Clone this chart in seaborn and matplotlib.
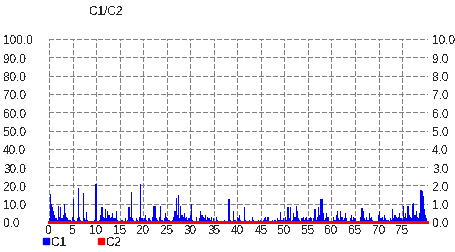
import numpy as np
import pandas as pd
import matplotlib
matplotlib.use("Agg")
import matplotlib.pyplot as plt
from matplotlib.lines import Line2D
import seaborn as sns

title = "C1/C2"
series_names = ["C1", "C2"]
x_start = 0.0
x_step = 0.25
c1_values = [
    2, 15.5, 10, 8,   6, 4, 2, 1,   9, 3, 8, 2,   4, 10, 5, 3,   2, 1, 1, 0.5,
    3, 12.5, 1, 0,    2, 18.5, 3, 1,   0, 16, 2, 1,   5.5, 1, 0, 0.5,   0, 0, 0.5, 1,
    21, 0.5, 0, 1,    4, 8, 3, 2,   7, 2, 6, 4,   2, 3, 5, 2,   2, 6, 1, 0,
    0, 0.5, 1, 0,     0, 2, 0, 1,   8, 3, 16.5, 2,   1, 0.5, 2, 1,   0, 3, 21, 2,
    1, 2, 4, 1,       0, 2, 1, 0,   3, 9, 9, 2,   1, 0, 3, 9,   1, 0, 2, 5,
    3, 2, 1, 0,       0, 1, 3, 6,   13, 4, 15, 2,   9, 4, 3, 5,   2, 3, 1, 2,
    4, 10, 1, 0,      0, 3, 0, 0,   2, 6, 4, 3,   2, 4, 1, 3,   2, 1, 3, 0.5,
    2, 0.5, 3, 1,     0, 0, 0.5, 0,   0, 1, 0, 0,   0.5, 12.5, 1, 0,   0, 6, 1, 0,
    3, 2, 4, 1,       0, 0, 8, 1,   0, 0, 1, 0,   0, 3, 1, 0,   0, 0.5, 1, 0,
    1, 0.5, 1, 2,     3, 1, 3, 0,   0, 0.5, 1, 0,   1, 0.5, 2, 1,   1, 5.5, 1, 2,
    0.5, 3, 1, 8,     2, 8, 0, 1,   5, 3, 8.5, 6,   2, 1, 0, 2,   3, 1, 2, 3,
    1, 2, 3, 2,       0.5, 2, 7, 1,   3, 8, 4, 12.5,   12.5, 5, 1, 2,   5, 3, 0.5, 0,
    0, 0.5, 3, 1,     4, 6, 2, 1,   6, 3, 1, 2,   5, 2, 0, 0.5,   2, 4, 1, 3,
    2, 0, 0, 0,       0, 3, 7.5, 6,   2, 1, 3, 1,   5, 2, 3, 1,   0, 0, 0.5, 0,
    4, 6, 2, 3,       1, 4, 2, 1,   1, 0.5, 2, 1,   7, 2, 4, 3,   2, 3, 5, 2,
    1, 8.5, 3, 5,     2, 8.5, 4, 3,   2, 10, 10.5, 4,   6, 3, 2, 5,   17.5, 17, 14, 7,
    4, 2,
]
x_values = [x_start + i * x_step for i in range(len(c1_values))]
c2_values = [0.0] * len(c1_values)

left_ticks = [0, 10, 20, 30, 40, 50, 60, 70, 80, 90, 100]
left_labels = ["0.0", "10.0", "20.0", "30.0", "40.0", "50.0", "60.0", "70.0", "80.0", "90.0", "100.0"]
right_labels = ["0.0", "1.0", "2.0", "3.0", "4.0", "5.0", "6.0", "7.0", "8.0", "9.0", "10.0"]
x_ticks = list(range(0, 80, 5))

df = pd.DataFrame({"x": x_values, "C1": c1_values, "C2": c2_values})

sns.set_theme(style="white")
plt.rcParams["font.family"] = ["Liberation Sans", "DejaVu Sans"]
plt.rcParams["text.antialiased"] = False
plt.rcParams["lines.antialiased"] = False
plt.rcParams["patch.antialiased"] = False

fig = plt.figure(figsize=(4.56, 2.53), dpi=100)
ax = fig.add_axes([49 / 456, 1 - 223 / 253, (428 - 49) / 456, (223 - 40) / 253])

sns.barplot(data=df, x="x", y="C1", native_scale=True, width=1.0, color="#0000ff",
            saturation=1, linewidth=0, errorbar=None, ax=ax)
sns.lineplot(data=df, x="x", y="C2", color="#ff0000", linewidth=2, ax=ax, clip_on=False)

ax.set_xlim(0, 80.5)
ax.set_ylim(0, 100)
ax.set_xlabel("")
ax.set_ylabel("")
for s in ax.spines.values():
    s.set_visible(False)

grid_kw = dict(color="#808080", linewidth=0.75, linestyle=(0, (4, 2.5)))
ax.set_xticks(x_ticks)
ax.set_xticklabels([str(t) for t in x_ticks], fontsize=8.5)
ax.set_yticks(left_ticks)
ax.set_yticklabels(left_labels, fontsize=8.5)
ax.grid(True, **grid_kw)
ax.set_axisbelow(True)
ax.tick_params(axis="x", length=0, pad=1.5)
ax.tick_params(axis="y", length=0, pad=33)
for lab in ax.get_yticklabels():
    lab.set_horizontalalignment("left")

ax2 = ax.twinx()
ax2.set_ylim(0, 10)
ax2.set_yticks(np.arange(0, 11, 1))
ax2.set_yticklabels(right_labels, fontsize=8.5)
ax2.tick_params(axis="y", length=0, pad=3)
for s in ax2.spines.values():
    s.set_visible(False)

fig.text(106 / 456, 1 - 12 / 253, title, fontsize=8.5, ha="center", va="center")

handles = [Line2D([], [], marker="s", linestyle="none", color="#0000ff", markersize=4),
           Line2D([], [], marker="s", linestyle="none", color="#ff0000", markersize=4)]
fig.legend(handles, series_names, loc="upper left", bbox_to_anchor=(42 / 456, 1 - 237 / 253),
           ncol=2, frameon=False, fontsize=8.5, handlelength=0.6, handletextpad=0.2,
           columnspacing=2.6, borderpad=0, borderaxespad=0)

fig.savefig("out.png", dpi=100)
